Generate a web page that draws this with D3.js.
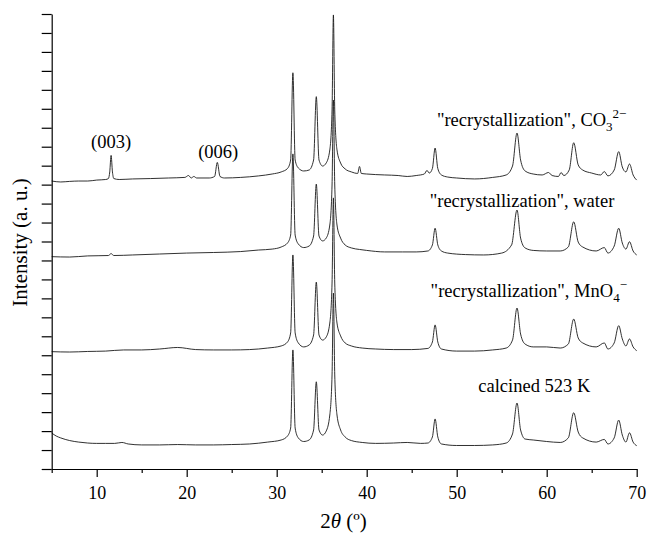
<!DOCTYPE html>
<html>
<head>
<meta charset="utf-8">
<script src="https://cdn.jsdelivr.net/npm/d3@7"></script>
<style>
  body { margin: 0; background: #fff; }
  svg { display: block; }
  text { font-family: "Liberation Serif", "Times New Roman", serif; fill: #000; }
</style>
</head>
<body>
<div id="chart"></div>
<script>
// XRD patterns, [2theta, intensity (a.u.)], stacked as in the figure
const co3Pattern = [
  [5,1519],[6,1514],[7,1517],[8,1519],[9,1519],[10,1524],[11,1527],[11.3,1532],[11.45,1567],[11.6,1654],
  [11.75,1567],[11.9,1532],[12.5,1527],[14,1530],[16,1532],[18,1535],[19.8,1538],[20.2,1548],[20.5,1535],
  [20.8,1543],[21.1,1535],[22.5,1535],[23.1,1543],[23.4,1617],[23.7,1543],[24.2,1535],[26,1538],[28,1546],
  [29.5,1556],[30.5,1567],[31.2,1585],[31.55,1630],[31.8,2090],[32.05,1630],[32.4,1588],[33,1572],[33.6,1577],
  [34.1,1630],[34.4,1964],[34.7,1630],[35.1,1598],[35.5,1614],[35.9,1683],[36.15,1894],[36.3,2395],[36.45,1894],
  [36.7,1683],[37.1,1614],[37.6,1583],[38.3,1567],[39,1559],[39.2,1596],[39.4,1559],[40,1556],[42,1551],
  [43.5,1548],[44.5,1543],[45.5,1548],[46.4,1556],[46.7,1575],[46.95,1561],[47.3,1585],[47.6,1693],[47.9,1585],
  [48.3,1551],[49,1540],[50,1535],[52,1530],[54,1538],[55.5,1551],[56.2,1598],[56.7,1772],[57.1,1630],
  [57.6,1572],[58.5,1556],[59.5,1551],[60.2,1564],[60.6,1548],[61.3,1543],[61.6,1564],[61.9,1548],[62.5,1577],
  [63,1721],[63.5,1604],[64,1577],[65,1561],[66,1551],[66.4,1569],[66.8,1546],[67.5,1577],[68,1674],
  [68.4,1593],[68.8,1567],[69.2,1609],[69.6,1551],[70,1524]
];

const waterPattern = [
  [5,1120],[7,1118],[9,1124],[11.3,1126],[11.6,1136],[11.9,1126],[14,1129],[17,1134],[20,1139],[23,1142],
  [26,1147],[28,1155],[29.5,1160],[30.5,1171],[31.2,1192],[31.55,1234],[31.8,1662],[32.05,1234],[32.4,1187],
  [33,1168],[33.6,1176],[34.1,1229],[34.4,1503],[34.7,1229],[35.1,1203],[35.5,1218],[35.9,1287],[36.15,1498],
  [36.3,1946],[36.45,1498],[36.7,1287],[37.1,1218],[37.6,1182],[38.3,1166],[39.2,1158],[40,1153],[42,1145],
  [44,1145],[45.5,1145],[46.8,1150],[47.3,1182],[47.6,1270],[47.9,1182],[48.3,1150],[49,1139],[51,1131],
  [53,1129],[55,1139],[56.1,1182],[56.7,1366],[57.1,1218],[57.6,1166],[58.5,1153],[60,1150],[61.5,1150],
  [62.4,1171],[63,1304],[63.5,1197],[64,1171],[65.5,1150],[66.4,1168],[66.8,1139],[67.5,1176],[68,1270],
  [68.4,1192],[68.8,1160],[69.2,1199],[69.6,1150],[70,1129]
];

const mno4Pattern = [
  [5,619],[7,617],[9,620],[11,622],[13,628],[15,628],[17,633],[19,641],[21,630],[23,628],[25,628],[27,630],
  [29,638],[30.5,649],[31.2,670],[31.55,718],[31.8,1129],[32.05,718],[32.4,665],[33,644],[33.6,654],[34.1,707],
  [34.4,986],[34.7,707],[35.1,680],[35.5,696],[35.9,770],[36.15,981],[36.3,1430],[36.45,981],[36.7,770],
  [37.1,702],[37.6,665],[38.3,649],[39.5,638],[41,633],[43,630],[45,630],[46.8,636],[47.3,670],[47.6,760],
  [47.9,670],[48.3,633],[50,622],[52,622],[54,628],[55.5,638],[56.2,680],[56.7,849],[57.1,712],[57.6,659],
  [58.5,644],[60,644],[61.5,638],[62.4,659],[63,791],[63.5,691],[64,665],[65.5,644],[66.4,665],[66.8,633],
  [67.5,665],[68,756],[68.4,686],[68.8,649],[69.2,686],[69.6,644],[70,624]
];

const calcinedPattern = [
  [5,190],[5.5,174],[6,164],[7,150],[8,142],[9,137],[10,135],[11,135],[12,135],[12.8,140],[13.5,132],[15,127],
  [17,127],[19,129],[21,127],[23,127],[25,129],[27,132],[29,142],[30.5,153],[31.2,174],[31.55,216],[31.8,628],
  [32.05,216],[32.4,164],[33,145],[33.6,153],[34.1,206],[34.4,460],[34.7,206],[35.1,179],[35.5,200],[35.9,285],
  [36.15,496],[36.3,928],[36.45,496],[36.7,285],[37.1,206],[37.6,169],[38.3,150],[39.5,140],[41,135],[43,137],
  [44.5,140],[46,135],[46.8,137],[47.3,169],[47.6,264],[47.9,169],[48.3,132],[50,124],[52,124],[54,127],
  [55.5,137],[56.2,185],[56.7,348],[57.1,206],[57.6,158],[58.5,153],[60,145],[61.5,140],[62.4,164],[63,297],
  [63.5,195],[64,164],[65.5,142],[66.4,156],[66.8,132],[67.5,164],[68,258],[68.4,179],[68.8,142],[69.2,191],
  [69.6,142],[70,123]
];

const series = [co3Pattern, waterPattern, mno4Pattern, calcinedPattern];

const xTicks = [10, 20, 30, 40, 50, 60, 70];
const xMinorTicks = [5, 15, 25, 35, 45, 55, 65];
const yTicks = d3.range(0, 2401, 100);

// label text pieces: [text, kind]
const seriesLabels = [
  {at: [47.8, 1809], parts: [['"recrystallization", CO', ''], ['3', 'sub'], ['2\u2212', 'sup']]},
  {at: [47.0, 1384], parts: [['"recrystallization", water', '']]},
  {at: [47.1, 907],  parts: [['"recrystallization", MnO', ''], ['4', 'sub'], ['\u2212', 'sup']]},
  {at: [52.4, 408],  parts: [['calcined 523 K', '']]}
];
const peakLabels = [
  {at: [11.6, 1693], text: "(003)"},
  {at: [23.5, 1640], text: "(006)"}
];

const W = 648, H = 533;
const margin = {top: 14, right: 11.3, bottom: 64, left: 51.7};
const width = W - margin.left - margin.right;
const height = H - margin.top - margin.bottom;

const svg = d3.select("#chart").append("svg")
    .attr("width", W)
    .attr("height", H);

const g = svg.append("g")
    .attr("transform", `translate(${margin.left},${margin.top})`);

const x = d3.scaleLinear().domain([5, 70]).range([0, width]);
const y = d3.scaleLinear().domain([0, 2400]).range([height, 0]);

// traces
const line = d3.line()
    .x(d => x(d[0]))
    .y(d => y(d[1]))
    .curve(d3.curveMonotoneX);

g.selectAll(".trace")
    .data(series)
    .enter()
    .append("path")
    .attr("class", "trace")
    .attr("d", line)
    .attr("fill", "none")
    .attr("stroke", "#1a1a1a")
    .attr("stroke-width", 0.9)
    .attr("stroke-linejoin", "round");

// axes
const yAxis = g.append("g")
    .call(d3.axisLeft(y).tickValues(yTicks).tickSize(10).tickSizeOuter(0).tickFormat(""));

const xAxis = g.append("g")
    .attr("transform", `translate(0,${height})`)
    .call(d3.axisBottom(x).tickValues(xTicks).tickSize(8).tickSizeOuter(0).tickPadding(9).tickFormat(d3.format("d")));

const xMinor = g.append("g")
    .attr("transform", `translate(0,${height})`)
    .call(d3.axisBottom(x).tickValues(xMinorTicks).tickSize(4).tickSizeOuter(0).tickFormat(""));
xMinor.select(".domain").remove();

[yAxis, xAxis, xMinor].forEach(a => {
    a.selectAll("path, line").attr("stroke", "#000").attr("stroke-width", 1.2);
});
xAxis.selectAll("text")
    .style("font-family", '"Liberation Serif", serif')
    .style("font-size", "18px")
    .attr("fill", "#000");

// series labels
seriesLabels.forEach(l => {
    const t = g.append("text")
        .attr("x", x(l.at[0]))
        .attr("y", y(l.at[1]))
        .style("font-size", "18.5px");
    let shift = 0;
    l.parts.forEach(p => {
        const ts = t.append("tspan").text(p[0]);
        let target = 0;
        if (p[1] === "sub") { target = 5; ts.style("font-size", "13px"); }
        if (p[1] === "sup") { target = -8; ts.style("font-size", "13px"); }
        ts.attr("dy", target - shift);
        shift = target;
    });
});

// peak labels
g.selectAll(".peak-label")
    .data(peakLabels)
    .enter()
    .append("text")
    .attr("class", "peak-label")
    .attr("x", d => x(d.at[0]))
    .attr("y", d => y(d.at[1]))
    .attr("text-anchor", "middle")
    .style("font-size", "18.5px")
    .text(d => d.text);

// axis titles
const xTitle = svg.append("text")
    .attr("x", 343.5)
    .attr("y", 528)
    .attr("text-anchor", "middle")
    .style("font-size", "21px");
xTitle.append("tspan").text("2");
xTitle.append("tspan").style("font-style", "italic").text("\u03b8");
xTitle.append("tspan").text(" (\u00ba)");

svg.append("text")
    .attr("transform", "translate(27,242.5) rotate(-90)")
    .attr("text-anchor", "middle")
    .style("font-size", "21px")
    .text("Intensity (a. u.)");
</script>
</body>
</html>
